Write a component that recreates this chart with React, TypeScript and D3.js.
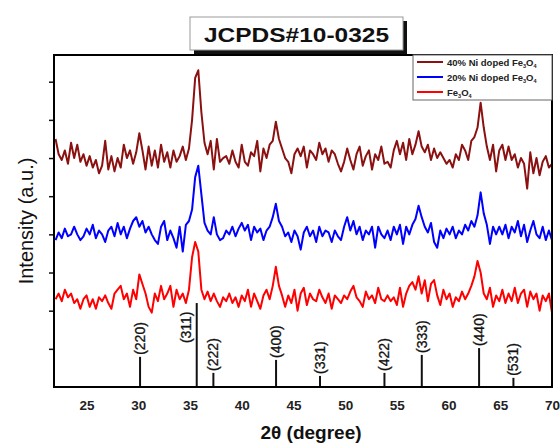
import { useRef, useEffect } from 'react';
import * as d3 from 'd3';

// 2θ grid of the scans (degrees), 0.3° step
const theta: number[] = d3.range(161).map(i => +(22 + i * 0.3).toFixed(1));

// 40% Ni doped Fe3O4 (offset trace, a.u.)
const ni40: number[] = [
  65, 61, 59.5, 62, 58.5, 64, 60, 63.5, 59, 61,
  58, 60.5, 57.5, 59.5, 56, 58, 64.5, 57, 60.5, 56.5,
  60, 57.5, 63.5, 60, 62, 58.5, 61.5, 66.5, 62, 57,
  63, 58, 62, 57.5, 63.5, 59, 61.5, 57.5, 62, 59,
  60.5, 63, 59.5, 62.5, 70, 81, 83, 72, 64, 61,
  64.5, 57, 65, 59, 60, 60.5, 58.5, 62, 59, 57.5,
  63.5, 59, 58, 61.5, 60.5, 64.5, 56.5, 62.5, 60, 63.5,
  64.5, 69.5, 65, 62.5, 60, 59, 56, 61, 62.5, 60.5,
  63, 57.5, 62, 61, 59.5, 64, 61, 62.5, 59, 62,
  61, 58.5, 56.5, 59, 62.5, 59.5, 57, 61, 63, 58,
  60.5, 62, 57, 61, 59.5, 63, 58.5, 59, 57.5, 62,
  64.5, 61, 64, 59.5, 65, 61, 63.5, 67, 63, 61.5,
  63.5, 59.5, 62.5, 60, 61.5, 60, 58.5, 59.5, 57.5, 61,
  59.5, 63.5, 62, 59.5, 64.5, 65.5, 68, 74.5, 68, 63,
  59.5, 63.5, 56.5, 62, 63.5, 59.5, 63, 59.5, 61, 57.5,
  60, 58.5, 52, 61.5, 56, 60, 55.5, 59, 60.5, 57.5,
  58.5,
];

// 20% Ni doped Fe3O4
const ni20: number[] = [
  38.5, 40.5, 39, 41.5, 39.5, 40, 42, 40, 38.5, 39.5,
  41.5, 40, 42.5, 39, 41, 40, 38, 41, 42, 39.5,
  43, 40, 42, 39, 41.5, 43.5, 44.5, 42, 43.5, 40.5,
  42, 40, 38.5, 37.5, 42, 43.5, 38.5, 41, 39, 36.5,
  42, 35.5, 42.5, 43.5, 46.5, 55, 58, 50.5, 43, 41,
  40, 44.5, 40, 38.5, 39, 41, 40, 42, 39.5, 41.5,
  43, 41, 42.5, 38.5, 42, 40.5, 41.5, 38.5, 41, 42,
  44.5, 48, 43.5, 42, 39.5, 40.5, 38, 41, 39.5, 36,
  40.5, 42, 39.5, 41, 38, 42, 39.5, 41, 40.5, 38,
  41, 39.5, 38.5, 42, 44.5, 41, 43.5, 40, 42, 38.5,
  41, 40, 42, 36.5, 42, 40, 39, 41, 38.5, 42,
  40, 42.5, 37.5, 42, 40, 42.5, 44, 47.5, 44.5, 42,
  40.5, 43, 38, 36.5, 41, 39, 41.5, 40, 42, 39,
  41, 40, 42.5, 41, 43.5, 42, 45, 51, 45.5, 42.5,
  37.5, 42, 40, 42, 40, 42.5, 39, 42, 40.5, 43.5,
  39.5, 42.5, 38, 41, 43.5, 40, 39, 42, 38.5, 41,
  38.5,
];

// Fe3O4
const fe3o4: number[] = [
  23, 24.5, 22.5, 25.5, 23.5, 24.5, 22, 23, 20.5, 23,
  24, 21, 23, 20.5, 23.5, 22.5, 24, 22, 20.5, 24.5,
  25.5, 26.5, 23, 24.5, 21, 25.5, 23, 29.5, 27, 24.5,
  21, 19.5, 24.5, 22.5, 26.5, 23, 24.5, 26.5, 21, 25.5,
  23, 24.5, 22, 25.5, 34, 38, 35.5, 25.5, 23, 25,
  22.5, 24.5, 22.5, 21, 23.5, 22.5, 24.5, 22, 23.5, 21,
  24, 22.5, 25.5, 21, 24.5, 22.5, 20.5, 24, 25.5, 23,
  26.5, 31.5, 26.5, 24, 21, 24, 22, 25.5, 20, 24.5,
  26, 21.5, 24.5, 23, 22.5, 25.5, 23.5, 22, 24.5, 20.5,
  24, 23, 22, 24, 23, 25, 26.5, 23.5, 22.5, 21,
  25, 23, 24, 22, 26, 23, 22.5, 24, 22.5, 23.5,
  21.5, 26, 21, 24.5, 26.5, 27.5, 25.5, 29, 24.5, 28,
  22.5, 27, 28, 24, 21.5, 25.5, 23, 24.5, 21, 23.5,
  22.5, 25, 23, 24.5, 26.5, 29, 33, 30, 24.5, 23,
  26, 21, 24, 22.5, 25.5, 22, 24.5, 22.5, 26, 22,
  24.5, 25.5, 21, 25, 23, 24.5, 20, 24, 22.5, 24.5,
  19.5,
];

// JCPDS#10-0325 reference reflections
const hkl = ['(220)', '(311)', '(222)', '(400)', '(331)', '(422)', '(333)', '(440)', '(531)'];
const hklPos = [30.17, 35.65, 37.26, 43.32, 47.57, 53.8, 57.41, 62.95, 66.27];
const hklInt = [7.9, 22, 3.7, 7.1, 2.9, 3.7, 8.4, 10.2, 2.4];

const seriesNames = ['40% Ni doped Fe', '20% Ni doped Fe', 'Fe'];
const seriesColors = ['#8b1010', '#0000ff', '#ff0000'];
const xTicks = [25, 30, 35, 40, 45, 50, 55, 60, 65, 70];

export default function App() {
  const ref = useRef<SVGSVGElement>(null);

  useEffect(() => {
    const w = 560, h = 443;
    const m = { left: 54, right: 8, top: 55, bottom: 56 };
    const font = '"Liberation Sans", Arial, sans-serif';

    const x = d3.scaleLinear().domain([21.85, 70]).range([m.left, w - m.right]);
    const y = d3.scaleLinear().domain([0, 87]).range([h - m.bottom, m.top]);

    const svg = d3.select(ref.current)
      .attr('width', w)
      .attr('height', h)
      .style('font-family', font);
    svg.selectAll('*').remove();

    svg.append('rect').attr('width', w).attr('height', h).attr('fill', '#fff');

    /* traces */
    const line = d3.line<number>()
      .x((_, i) => x(theta[i]))
      .y(d => y(d));

    [ni40, ni20, fe3o4].forEach((s, k) => {
      svg.append('path')
        .datum(s)
        .attr('fill', 'none')
        .attr('stroke', seriesColors[k])
        .attr('stroke-width', 2)
        .attr('stroke-linejoin', 'round')
        .attr('d', line);
    });

    /* JCPDS sticks + hkl labels */
    const sticks = svg.append('g');
    hklPos.forEach((p, i) => {
      sticks.append('line')
        .attr('x1', x(p)).attr('x2', x(p))
        .attr('y1', y(0)).attr('y2', y(hklInt[i]))
        .attr('stroke', '#111')
        .attr('stroke-width', 2);
      const tall = hklInt[i] > 15;
      const lx = tall ? x(p) - 11 : x(p);
      const ly = tall ? y(11.5) : y(hklInt[i]) - 2;
      sticks.append('text')
        .attr('transform', `translate(${lx},${ly}) rotate(-90)`)
        .attr('dy', '0.35em')
        .attr('font-size', 14)
        .attr('fill', '#111')
        .attr('stroke', '#111')
        .attr('stroke-width', 0.3)
        .text(hkl[i]);
    });

    /* axes */
    const xAxis = svg.append('g').attr('transform', `translate(0,${h - m.bottom})`);
    xAxis.call(d3.axisBottom(x).tickValues(d3.range(22.5, 70.1, 2.5)).tickSize(5).tickFormat(() => ''))
      .call(g => g.select('.domain').remove());
    xAxis.call(d3.axisBottom(x).tickValues(xTicks).tickSize(0).tickPadding(13))
      .call(g => g.select('.domain').remove())
      .call(g => g.selectAll('text')
        .attr('font-size', 13.5).attr('font-weight', 700).attr('fill', '#222')
        .style('font-family', font));
    xAxis.selectAll('line').attr('stroke', '#111').attr('stroke-width', 1.5);

    const yAxis = svg.append('g').attr('transform', `translate(${m.left},0)`);
    yAxis.call(d3.axisLeft(y).tickValues(d3.range(5, 86, 10)).tickSize(8).tickFormat(() => ''))
      .call(g => g.select('.domain').remove());
    yAxis.call(d3.axisLeft(y).tickValues(d3.range(10, 81, 10)).tickSize(5).tickFormat(() => ''))
      .call(g => g.select('.domain').remove());
    yAxis.selectAll('line').attr('stroke', '#111').attr('stroke-width', 1.5);

    /* frame */
    svg.append('rect')
      .attr('x', m.left).attr('y', m.top)
      .attr('width', w - m.left - m.right)
      .attr('height', h - m.top - m.bottom)
      .attr('fill', 'none')
      .attr('stroke', '#000')
      .attr('stroke-width', 2);

    /* title box with shadow */
    const tb = { x: 190, y: 17, w: 213, h: 33 };
    svg.append('rect')
      .attr('x', tb.x + 4).attr('y', tb.y + 4)
      .attr('width', tb.w).attr('height', tb.h)
      .attr('fill', '#111');
    svg.append('rect')
      .attr('x', tb.x).attr('y', tb.y)
      .attr('width', tb.w).attr('height', tb.h)
      .attr('fill', '#fff')
      .attr('stroke', '#999')
      .attr('stroke-width', 1);
    svg.append('text')
      .attr('x', tb.x + tb.w / 2).attr('y', tb.y + 25)
      .attr('text-anchor', 'middle')
      .attr('font-size', 21)
      .attr('font-weight', 700)
      .attr('fill', '#111')
      .attr('textLength', 185)
      .attr('lengthAdjust', 'spacingAndGlyphs')
      .text('JCPDS#10-0325');

    /* legend */
    const lg = svg.append('g');
    lg.append('rect')
      .attr('x', 413).attr('y', m.top)
      .attr('width', w - m.right - 413).attr('height', 45)
      .attr('fill', '#fff')
      .attr('stroke', '#666')
      .attr('stroke-width', 1);
    seriesNames.forEach((name, i) => {
      const ly = 62 + i * 15;
      lg.append('line')
        .attr('x1', 417).attr('x2', 443)
        .attr('y1', ly).attr('y2', ly)
        .attr('stroke', seriesColors[i])
        .attr('stroke-width', 2);
      const t = lg.append('text')
        .attr('x', 447).attr('y', ly + 3.5)
        .attr('font-size', 9.5)
        .attr('font-weight', 700)
        .attr('fill', '#222');
      t.append('tspan').text(name);
      t.append('tspan').attr('font-size', 5.5).attr('dy', 2).text('3');
      t.append('tspan').attr('dy', -2).text('O');
      t.append('tspan').attr('font-size', 5.5).attr('dy', 2).text('4');
    });

    /* axis titles */
    svg.append('text')
      .attr('x', 311).attr('y', 439)
      .attr('text-anchor', 'middle')
      .attr('font-size', 19)
      .attr('font-weight', 700)
      .attr('fill', '#111')
      .text('2θ (degree)');

    svg.append('text')
      .attr('transform', `translate(33,221) rotate(-90)`)
      .attr('text-anchor', 'middle')
      .attr('font-size', 20)
      .attr('fill', '#111')
      .text('Intensity (a.u.)');
  }, []);

  return <svg ref={ref} style={{ position: 'absolute', left: 0, top: 0 }}></svg>;
}
